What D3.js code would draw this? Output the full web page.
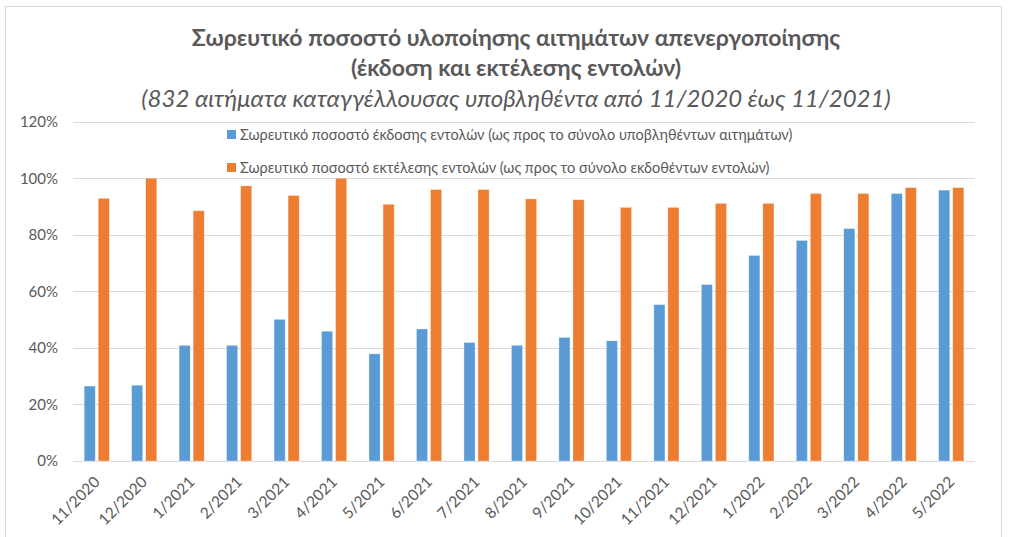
<!DOCTYPE html>
<html><head><meta charset="utf-8">
<script src="https://cdn.jsdelivr.net/npm/d3@7"></script>
<style>body{margin:0;background:#fff}svg{display:block}</style>
</head><body>
<script>
const categories = ["11/2020","12/2020","1/2021","2/2021","3/2021","4/2021","5/2021","6/2021","7/2021","8/2021","9/2021","10/2021","11/2021","12/2021","1/2022","2/2022","3/2022","4/2022","5/2022"];
const issued =   [26.5,26.8,40.9,40.9,50.1,45.9,37.9,46.7,41.9,40.9,43.7,42.5,55.3,62.4,72.7,78.0,82.2,94.6,95.8];
const executed = [92.9,100,88.5,97.3,93.9,100,90.8,96.0,96.0,92.7,92.4,89.7,89.7,91.1,91.1,94.6,94.6,96.7,96.7];
const seriesNames = ["Σωρευτικό ποσοστό έκδοσης εντολών (ως προς το σύνολο υποβληθέντων αιτημάτων)",
                     "Σωρευτικό ποσοστό εκτέλεσης εντολών (ως προς το σύνολο εκδοθέντων εντολών)"];
const yTicks = [0,20,40,60,80,100,120];
const titleLines = ["Σωρευτικό ποσοστό υλοποίησης αιτημάτων απενεργοποίησης","(έκδοση και εκτέλεσης εντολών)"];
const subtitle = "(832 αιτήματα καταγγέλλουσας υποβληθέντα από 11/2020 έως 11/2021)";

const W = 1012, H = 537;
const colors = ["#5B9BD5", "#ED7D31"];
const font = "Lato, 'Open Sans', sans-serif";
const svg = d3.select("body").append("svg").attr("width", W).attr("height", H);
svg.append("rect").attr("x",5.5).attr("y",6.5).attr("width",996).attr("height",540).attr("fill","#fff").attr("stroke","#d9d9d9");

const pLeft = 73, pRight = 975, pTop = 121.7, pBottom = 461;
const y = d3.scaleLinear().domain([0,120]).range([pBottom, pTop]);
const x0 = d3.scaleBand().domain(categories).range([pLeft, pRight]).paddingInner(0.47).paddingOuter(0.235);
const x1 = d3.scaleBand().domain([0,1]).range([0, x0.bandwidth()]).paddingInner(0.21);

// gridlines
svg.append("g").selectAll("line").data(yTicks).join("line")
  .attr("x1", pLeft).attr("x2", pRight).attr("y1", d=>Math.round(y(d))+0.5).attr("y2", d=>Math.round(y(d))+0.5)
  .attr("stroke","#d9d9d9").attr("stroke-width",1);

// y axis labels
const yAxis = d3.axisLeft(y).tickValues(yTicks).tickFormat(d=>d+"%").tickSize(0).tickPadding(0);
const gy = svg.append("g").attr("transform","translate(58,0)").call(yAxis);
gy.select(".domain").remove();
gy.selectAll("text").attr("fill","#595959").style("font-family",font).style("font-size","15px");

// bars
const data = categories.map((c,i)=>({c, v:[issued[i], executed[i]]}));
const g = svg.append("g").selectAll("g").data(data).join("g").attr("transform", d=>`translate(${x0(d.c)},0)`);
g.selectAll("rect").data(d=>d.v.map((v,k)=>({v,k}))).join("rect")
  .attr("x", d=>x1(d.k)).attr("width", x1.bandwidth())
  .attr("y", d=>y(d.v)).attr("height", d=>pBottom - y(d.v))
  .attr("fill", d=>colors[d.k]).attr("stroke","#fff").attr("stroke-opacity",0.5).attr("stroke-width",0.6);

// x axis labels
const xAxis = d3.axisBottom(x0).tickSize(0).tickPadding(0);
const gx = svg.append("g").attr("transform",`translate(0,${pBottom})`).call(xAxis);
gx.select(".domain").remove();
gx.selectAll("text").attr("fill","#595959").style("font-family",font).style("font-size","15.5px")
  .attr("text-anchor","end").attr("dy",null).attr("y",0)
  .attr("transform","translate(4,22) rotate(-45)");

// legend
const lg = svg.append("g").selectAll("g").data(seriesNames).join("g")
  .attr("transform",(d,i)=>`translate(227,${130 + i*33})`);
lg.append("rect").attr("width",9).attr("height",9).attr("fill",(d,i)=>colors[i]);
lg.append("text").attr("x",13).attr("y",10).text(d=>d).attr("fill","#595959")
  .style("font-family",font).style("font-size","14.5px");

// titles
svg.append("g").selectAll("text").data(titleLines).join("text")
  .attr("x",516).attr("y",(d,i)=>46+i*30).attr("text-anchor","middle").text(d=>d)
  .attr("fill","#595959").style("font-family",font).style("font-size","23px").style("font-weight","bold");
svg.append("text").attr("x",516).attr("y",107).attr("text-anchor","middle").text(subtitle)
  .attr("fill","#595959").style("font-family",font).style("font-size","24px").style("font-style","italic");
</script>
</body></html>
